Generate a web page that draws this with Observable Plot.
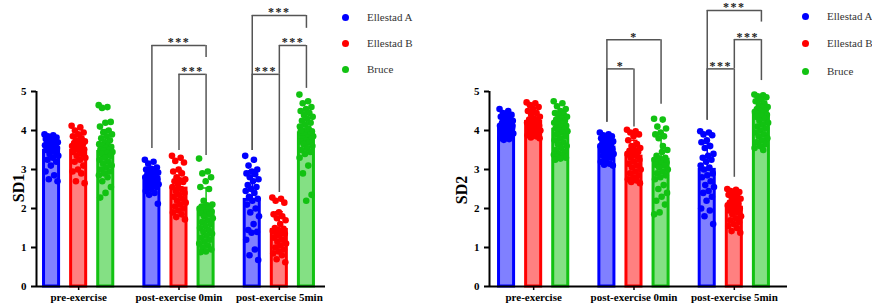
<!DOCTYPE html>
<html><head><meta charset="utf-8">
<script src="https://cdn.jsdelivr.net/npm/d3@7"></script>
<script src="https://cdn.jsdelivr.net/npm/@observablehq/plot@0.6"></script>
<style>
body{margin:0;background:#fff;}
#wrap{position:relative;width:872px;height:306px;display:flex;overflow:hidden;}
.lt{position:absolute;font-family:"Liberation Serif","Times New Roman",serif;font-size:11px;color:#333;white-space:nowrap;line-height:16px;}
.ld{position:absolute;width:7px;height:7px;border-radius:50%;}
.yl{position:absolute;font-family:"Liberation Serif","Times New Roman",serif;font-size:16px;font-weight:bold;color:#000;white-space:nowrap;line-height:16px;transform:translate(-50%,-50%) rotate(-90deg);}
</style></head><body><div id="wrap"></div><script>
// ---- categories ----
const conditions = ["pre-exercise", "post-exercise 0min", "post-exercise 5min"];
const groups = ["Ellestad A", "Ellestad B", "Bruce"];
const yTicks = [0, 1, 2, 3, 4, 5];

// ---- bar means ----
const sd1Pre = [3.48, 3.48, 3.45];
const sd1Post0 = [2.79, 2.51, 1.92];
const sd1Post5 = [2.22, 1.45, 3.93];
const sd2Pre = [4.10, 4.22, 4.02];
const sd2Post0 = [3.56, 3.33, 3.25];
const sd2Post5 = [2.99, 2.02, 4.40];

// ---- individual points: SD1 ----
const sd1_pre_A = [3.9,3.88,3.85,3.82,3.8,3.78,3.75,3.72,3.7,3.7,3.68,3.66,3.65,3.62,3.6,3.58,3.55,3.52,3.5,3.45,3.4,3.35,3.3,3.25,3.2,3.1,2.95,2.85,2.75,2.7];
const sd1_pre_B = [4.12,4.08,4.0,3.95,3.9,3.85,3.8,3.75,3.72,3.7,3.68,3.65,3.62,3.6,3.58,3.55,3.52,3.5,3.45,3.4,3.35,3.3,3.25,3.2,3.1,3.0,2.95,2.9,2.7,2.65];
const sd1_pre_C = [4.65,4.6,4.58,4.22,4.2,4.1,4.0,3.95,3.9,3.85,3.8,3.75,3.7,3.65,3.62,3.6,3.58,3.55,3.52,3.5,3.48,3.45,3.42,3.4,3.35,3.3,3.25,3.2,3.15,3.1,3.05,3.0,2.95,2.9,2.85,2.8,2.7,2.55,2.4,2.28];
const sd1_post0_A = [3.25,3.2,3.15,3.05,3.02,3.0,2.98,2.95,2.92,2.9,2.88,2.85,2.82,2.8,2.8,2.78,2.75,2.72,2.7,2.68,2.65,2.62,2.6,2.58,2.55,2.5,2.45,2.4,2.35,2.12];
const sd1_post0_B = [3.35,3.3,3.22,3.18,3.0,2.95,2.9,2.8,2.75,2.72,2.7,2.68,2.62,2.55,2.5,2.45,2.4,2.35,2.3,2.25,2.2,2.15,2.1,2.05,2.0,1.95,1.9,1.85,1.78,1.72];
const sd1_post0_C = [3.28,2.95,2.9,2.8,2.7,2.55,2.5,2.2,2.1,2.08,2.05,2.02,2.0,2.0,1.98,1.95,1.92,1.9,1.88,1.85,1.8,1.75,1.7,1.65,1.6,1.55,1.5,1.45,1.4,1.35,1.3,1.25,1.2,1.15,1.1,1.05,1.0,0.95,0.9,0.88];
const sd1_post5_A = [3.35,3.25,3.1,3.0,2.95,2.9,2.88,2.8,2.75,2.7,2.6,2.55,2.5,2.45,2.4,2.3,2.25,2.2,2.1,2.0,1.9,1.8,1.6,1.45,1.4,1.38,1.2,0.95,0.8,0.68];
const sd1_post5_B = [2.28,2.25,2.2,2.15,1.9,1.85,1.8,1.75,1.7,1.6,1.5,1.48,1.45,1.42,1.4,1.38,1.35,1.3,1.25,1.2,1.15,1.1,1.05,1.0,0.95,0.9,0.85,0.8,0.7,0.62];
const sd1_post5_C = [4.92,4.75,4.7,4.6,4.55,4.5,4.45,4.4,4.35,4.3,4.25,4.2,4.15,4.1,4.05,4.0,3.98,3.95,3.92,3.9,3.88,3.85,3.82,3.8,3.78,3.75,3.72,3.7,3.65,3.6,3.55,3.5,3.45,3.4,3.3,3.1,2.9,2.35,2.2,4.0];

// ---- individual points: SD2 ----
const sd2_pre_A = [4.55,4.5,4.45,4.4,4.38,4.35,4.3,4.28,4.25,4.22,4.2,4.18,4.15,4.12,4.1,4.08,4.05,4.02,4.0,3.98,3.95,3.92,3.9,3.88,3.85,3.82,3.8,3.78,3.76,4.12];
const sd2_pre_B = [4.72,4.7,4.65,4.6,4.55,4.5,4.45,4.4,4.35,4.3,4.28,4.25,4.22,4.2,4.18,4.15,4.12,4.1,4.08,4.05,4.02,4.0,3.98,3.95,3.92,3.9,3.88,3.85,3.82,3.8];
const sd2_pre_C = [4.75,4.7,4.62,4.55,4.5,4.45,4.42,4.4,4.35,4.3,4.28,4.25,4.22,4.2,4.18,4.15,4.12,4.1,4.05,4.02,4.0,3.98,3.95,3.9,3.85,3.8,3.75,3.7,3.65,3.6,3.55,3.5,3.45,3.4,3.38,3.35,3.32,3.3,3.28,3.25];
const sd2_post0_A = [3.95,3.9,3.88,3.85,3.82,3.8,3.78,3.75,3.72,3.7,3.68,3.65,3.62,3.6,3.58,3.55,3.52,3.5,3.48,3.45,3.42,3.4,3.38,3.35,3.3,3.25,3.2,3.15,3.12,3.1];
const sd2_post0_B = [4.02,3.98,3.95,3.9,3.85,3.75,3.65,3.6,3.55,3.5,3.48,3.45,3.42,3.4,3.35,3.3,3.25,3.2,3.15,3.1,3.05,3.0,2.95,2.9,2.85,2.8,2.75,2.72,2.68,2.65];
const sd2_post0_C = [4.3,4.28,4.1,4.05,3.95,3.9,3.85,3.8,3.5,3.45,3.35,3.3,3.28,3.25,3.22,3.2,3.18,3.15,3.12,3.1,3.05,3.0,2.95,2.9,2.85,2.8,2.75,2.6,2.5,2.4,2.3,2.2,2.1,1.9,1.85,3.6];
const sd2_post5_A = [3.98,3.95,3.9,3.88,3.75,3.7,3.6,3.55,3.4,3.35,3.3,3.25,3.2,3.1,3.05,3.0,2.9,2.85,2.8,2.7,2.6,2.55,2.45,2.4,2.3,2.2,2.0,1.95,1.8,1.6];
const sd2_post5_B = [2.5,2.48,2.45,2.42,2.4,2.35,2.3,2.28,2.25,2.2,2.15,2.12,2.1,2.08,2.05,2.02,2.0,1.98,1.95,1.9,1.85,1.8,1.75,1.7,1.65,1.6,1.55,1.5,1.42,1.38];
const sd2_post5_C = [4.92,4.9,4.88,4.85,4.8,4.75,4.7,4.65,4.6,4.58,4.55,4.52,4.5,4.48,4.45,4.42,4.4,4.38,4.35,4.3,4.25,4.2,4.15,4.1,4.05,4.0,3.95,3.9,3.85,3.8,3.75,3.7,3.65,3.6,3.55,3.5];

// ---- significance brackets: [condition, fromGroup, toGroup, label, top, leftLegEnd, rightLegEnd] ----
const sd1Brackets = [
  [1, 0, 2, "***", 6.18, 3.54, 5.87],
  [1, 1, 2, "***", 5.44, 3.49, 3.36],
  [2, 0, 2, "***", 6.95, 3.49, 6.62],
  [2, 1, 2, "***", 6.18, 5.44, 5.08],
  [2, 0, 1, "***", 5.44, 3.49, 2.41]
];
const sd2Brackets = [
  [1, 0, 2, "*", 6.33, 4.21, 4.67],
  [1, 0, 1, "*", 5.58, 4.21, 4.09],
  [2, 0, 2, "***", 7.08, 4.26, 6.78],
  [2, 1, 2, "***", 6.33, 5.58, 5.28],
  [2, 0, 1, "***", 5.58, 4.26, 2.80]
];

const dark = ["#0000ff", "#ff0000", "#12c212"];
const light = ["#8080ff", "#ff8080", "#84e084"];
const FONT = "'Liberation Serif', 'Times New Roman', serif";
const OFF = 0.27;
const center = (ci, gi) => ci + (gi - 1) * OFF;
const jit = i => ((((i * 0.6180339887) % 1) - 0.5) * 0.14);

function panel(means, points, brackets, xDomain, mL, mR) {
  const bars = [], rows = [];
  means.forEach((arr, ci) => arr.forEach((m, gi) => {
    const vals = points[ci][gi];
    bars.push({ci, gi, mean: m, sd: d3.deviation(vals), c: center(ci, gi)});
    vals.forEach((v, i) => rows.push({ci, gi, v, pos: center(ci, gi) + jit(i)}));
  }));
  const br = brackets.map(([ci, a, b, lab, top, lL, lR]) => ({
    xa: center(ci, a), xb: center(ci, b), lab, top, lL, lR
  }));
  return Plot.plot({
    width: 436, height: 306,
    marginLeft: mL, marginRight: mR, marginTop: 0, marginBottom: 20,
    x: {domain: xDomain, axis: null},
    y: {domain: [0, 286 / 39], axis: null},
    style: {fontFamily: FONT, fontSize: "11px", fontWeight: "bold", background: "white", color: "black", overflow: "visible"},
    marks: [
      Plot.rect(bars, {x1: d => d.c - 0.075, x2: d => d.c + 0.075, y1: 0, y2: "mean",
        fill: d => light[d.gi], stroke: d => dark[d.gi], strokeWidth: 3}),
      Plot.ruleX(bars, {x: "c", y1: "mean", y2: d => d.mean + d.sd, stroke: d => dark[d.gi], strokeWidth: 1.5}),
      Plot.ruleY(bars, {x1: d => d.c - 0.04, x2: d => d.c + 0.04, y: d => d.mean + d.sd, stroke: d => dark[d.gi], strokeWidth: 1.5}),
      Plot.dot(rows, {x: "pos", y: "v", r: 3.3, fill: d => dark[d.gi], stroke: "none"}),
      Plot.ruleY([0], {stroke: "black", strokeWidth: 2}),
      Plot.ruleX([xDomain[0]], {y1: 0, y2: 5, stroke: "black", strokeWidth: 2}),
      Plot.axisY({ticks: yTicks, tickSize: 5, tickPadding: 5, strokeWidth: 2, label: null, fontWeight: "bold"}),
      Plot.axisX({ticks: [0, 1, 2], tickFormat: i => conditions[i], tickSize: 4, tickPadding: 3, strokeWidth: 1.5, label: null, fontWeight: "bold"}),
      Plot.ruleY(br, {x1: "xa", x2: "xb", y: "top", stroke: "#555", strokeWidth: 1.5}),
      Plot.ruleX(br, {x: "xa", y1: "lL", y2: "top", stroke: "#555", strokeWidth: 1.5}),
      Plot.ruleX(br, {x: "xb", y1: "lR", y2: "top", stroke: "#555", strokeWidth: 1.5}),
      Plot.text(br, {x: d => (d.xa + d.xb) / 2, y: "top", text: "lab", lineAnchor: "bottom", dy: 1,
        fontSize: 12, fontWeight: "bold", fill: "#222"})
    ]
  });
}

const wrap = document.getElementById("wrap");
const p1 = panel([sd1Pre, sd1Post0, sd1Post5],
  [[sd1_pre_A, sd1_pre_B, sd1_pre_C], [sd1_post0_A, sd1_post0_B, sd1_post0_C], [sd1_post5_A, sd1_post5_B, sd1_post5_C]],
  sd1Brackets, [-0.42, 2.46], 36, 111);
const p2 = panel([sd2Pre, sd2Post0, sd2Post5],
  [[sd2_pre_A, sd2_pre_B, sd2_pre_C], [sd2_post0_A, sd2_post0_B, sd2_post0_C], [sd2_post5_A, sd2_post5_B, sd2_post5_C]],
  sd2Brackets, [-0.44, 2.53], 53, 85);
wrap.appendChild(p1);
wrap.appendChild(p2);
document.querySelectorAll("svg text").forEach(t => {
  if (/^\*+$/.test(t.textContent)) t.style.letterSpacing = "1.5px";
});

// ---- axis titles ----
function yLabel(text, cx, cy) {
  const d = document.createElement("div");
  d.className = "yl";
  d.style.left = cx + "px"; d.style.top = cy + "px";
  d.textContent = text;
  wrap.appendChild(d);
}
yLabel("SD1", 19, 188);
yLabel("SD2", 462, 190);

// ---- legends ----
function legend(dotX, textX, ys) {
  groups.forEach((g, i) => {
    const d = document.createElement("div");
    d.className = "ld";
    d.style.left = (dotX - 3.5) + "px"; d.style.top = (ys[i] - 3.5) + "px";
    d.style.background = dark[i];
    wrap.appendChild(d);
    const t = document.createElement("div");
    t.className = "lt";
    t.style.left = textX + "px"; t.style.top = (ys[i] - 8) + "px";
    t.textContent = g;
    wrap.appendChild(t);
  });
}
legend(345, 367, [17, 43, 69]);
legend(805, 827, [16, 43, 71]);
</script></body></html>
